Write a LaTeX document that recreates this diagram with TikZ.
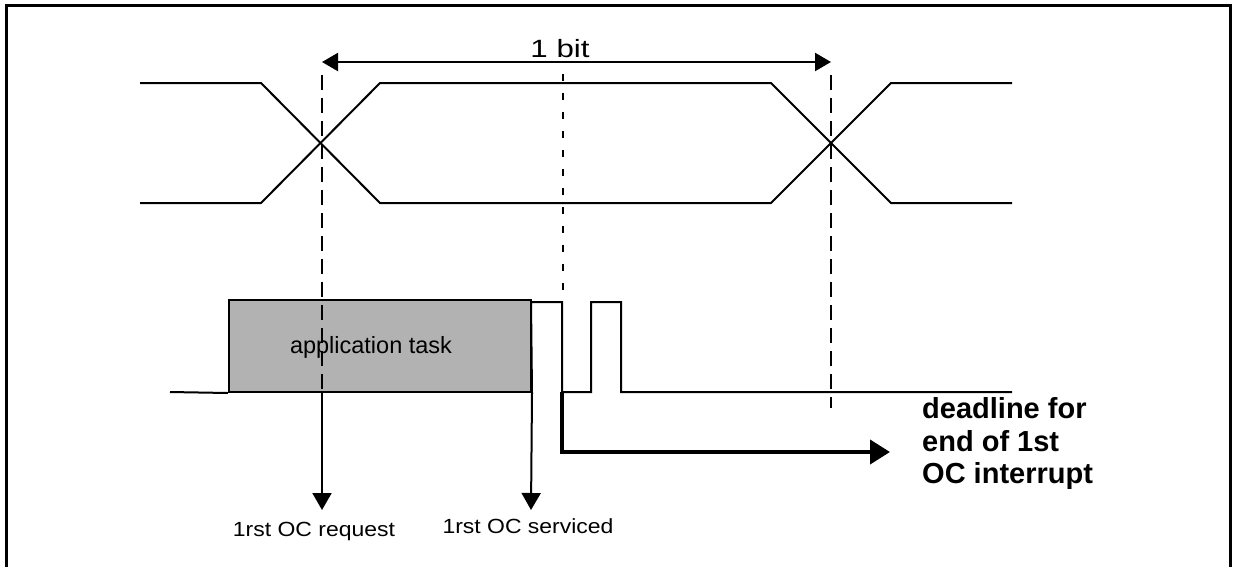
\documentclass[tikz,border=0pt]{standalone}
\usepackage{fontspec}
\setmainfont{Liberation Sans}
\newfontfamily\lblfont[FakeStretch=1.12]{Liberation Sans}
\newfontfamily\bitfont[FakeStretch=1.25]{Liberation Sans}
\usetikzlibrary{arrows.meta}
\begin{document}
\begin{tikzpicture}[x=1pt,y=-1pt,
  sig/.style={line width=2pt},
  frameline/.style={line width=3pt},
  guide/.style={line width=2pt,dash pattern=on 15pt off 8pt},
  midguide/.style={line width=1.6pt,dash pattern=on 7pt off 12pt},
  downarr/.style={line width=2pt,-{Triangle[length=17pt,width=19pt]}},
  bitarr/.style={line width=2.2pt,{Triangle[length=16pt,width=18pt]}-{Triangle[length=16pt,width=18pt]}},
  bigarr/.style={line width=4pt,-{Triangle[length=20pt,width=24pt]}},
  lbl/.style={inner sep=0pt,anchor=base,font=\lblfont\fontsize{20.5}{24}\selectfont},
  boldlbl/.style={inner sep=0pt,anchor=base west,font=\bfseries\fontsize{29}{32}\selectfont},
  taskbox/.style={draw,line width=2pt,fill=black!30,minimum width=302pt,minimum height=92pt,inner sep=0pt}]
\useasboundingbox (0,0) rectangle (1233,566);
% frame
\draw[frameline] (6,575) -- (6,5) -- (1230,5) -- (1230,575);
% bus signal
\draw[sig] (140,83) -- (261,83) -- (380,203) -- (771,203) -- (891,83) -- (1012,83);
\draw[sig] (140,203) -- (261,203) -- (380,83) -- (771,83) -- (891,203) -- (1012,203);
% task box
\node[taskbox] (task) at (380,346) {};
\node[inner sep=0pt,anchor=base,font=\fontsize{23.5}{28}\selectfont] (tasklbl) at (371,353) {application task};
% CPU activity line
\coordinate (b0) at (170,392);
\coordinate (p1) at (531,302);
\coordinate (p2) at (562,302);
\coordinate (p3) at (562,392);
\coordinate (p4) at (591,392);
\coordinate (p5) at (591,302);
\coordinate (p6) at (621,302);
\coordinate (p7) at (621,392);
\coordinate (bend) at (1012,392);
\draw[sig] (b0) -- (task.south west);
\draw[sig] (task.south east) -- (p1) -- (p2) -- (p3) -- (p4) -- (p5) -- (p6) -- (p7) -- (bend);
% guides
\coordinate (g1t) at (322,75);
\coordinate (g1b) at (322,392);
\coordinate (g2t) at (831,75);
\coordinate (g2b) at (831,408);
\coordinate (gmt) at (563,74);
\coordinate (gmb) at (563,292);
\draw[guide] (g1t) -- (g1b);
\draw[guide] (g2t) -- (g2b);
\draw[midguide] (gmt) -- (gmb);
% 1 bit
\coordinate (bl) at (322,62);
\coordinate (br) at (831,62);
\draw[bitarr] (bl) -- (br);
\node[inner sep=0pt,anchor=base,font=\bitfont\fontsize{25}{28}\selectfont] (bitlbl) at (560,57) {1 bit};
% down arrows
\coordinate (r1) at (322,510);
\coordinate (r2) at (531,510);
\draw[downarr] (g1b) -- (r1);
\draw[downarr] (task.south east) -- (r2);
\node[lbl] (req) at (314,536) {1rst OC request};
\node[lbl] (serv) at (528,533) {1rst OC serviced};
% deadline arrow
\coordinate (d1) at (562,452);
\coordinate (d2) at (890,452);
\draw[bigarr] (p3) -- (d1) -- (d2);
\node[boldlbl] (dl1) at (922,418) {deadline for};
\node[boldlbl] (dl2) at (922,451) {end of 1st};
\node[boldlbl] (dl3) at (922,483) {OC interrupt};
\end{tikzpicture}
\end{document}
